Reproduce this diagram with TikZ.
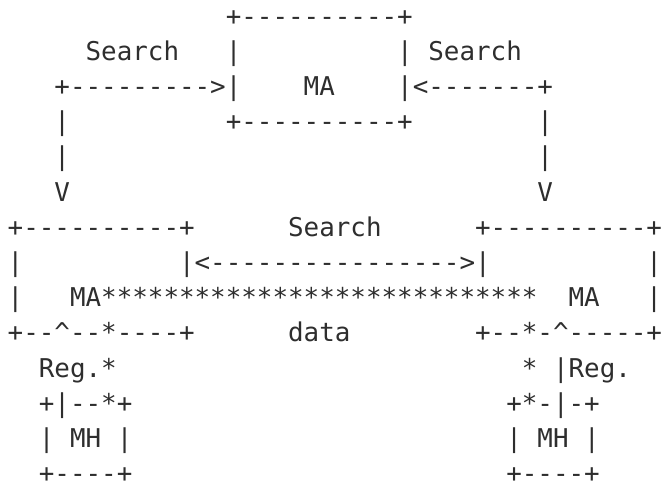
\documentclass[tikz,border=0pt]{standalone}
\usepackage{fontspec}
\setmonofont{DejaVu Sans Mono}
\definecolor{ink}{HTML}{2E2E2E}
\begin{document}
\begin{tikzpicture}[
  cell/.style={font=\ttfamily\fontsize{19.41pt}{23pt}\selectfont, text=ink,
               inner sep=0pt, outer sep=0pt, anchor=base west}
]
\useasboundingbox (0,0) rectangle (497.25pt,-366.75pt);
% one unit = one character cell of the monospaced grid
\begin{scope}[shift={(5.78pt,-18.75pt)}, x=11.685pt, y=-26.4pt]
  % top mobility agent
  \node[cell] (t0)  at (14,0) {+----------+};
  \node[cell] (sl)  at (5,1)  {Search};
  \node[cell] (t1a) at (14,1) {|};
  \node[cell] (t1b) at (25,1) {|};
  \node[cell] (sr)  at (27,1) {Search};
  \node[cell] (al)  at (3,2)  {+--------->|};
  \node[cell] (ma0) at (19,2) {MA};
  \node[cell] (ar)  at (25,2) {|<-------+};
  \node[cell] (vl3) at (3,3)  {|};
  \node[cell] (t3)  at (14,3) {+----------+};
  \node[cell] (vr3) at (34,3) {|};
  \node[cell] (vl4) at (3,4)  {|};
  \node[cell] (vr4) at (34,4) {|};
  \node[cell] (dl)  at (3,5)  {V};
  \node[cell] (dr)  at (34,5) {V};
  % the two lower mobility agents
  \node[cell] (l6)  at (0,6)  {+----------+};
  \node[cell] (sm)  at (18,6) {Search};
  \node[cell] (r6)  at (30,6) {+----------+};
  \node[cell] (l7)  at (0,7)  {|};
  \node[cell] (mid) at (11,7) {|<---------------->|};
  \node[cell] (r7)  at (41,7) {|};
  \node[cell] (l8)  at (0,8)  {|};
  \node[cell] (ma1) at (4,8)  {MA****************************};
  \node[cell] (ma2) at (36,8) {MA};
  \node[cell] (r8)  at (41,8) {|};
  \node[cell] (l9)  at (0,9)  {+--\textasciicircum--*----+};
  \node[cell] (dt)  at (18,9) {data};
  \node[cell] (r9)  at (30,9) {+--*-\textasciicircum-----+};
  % mobile hosts
  \node[cell] (rgl) at (2,10)  {Reg.*};
  \node[cell] (str) at (33,10) {*};
  \node[cell] (rgr) at (35,10) {|Reg.};
  \node[cell] (hl0) at (2,11)  {+|--*+};
  \node[cell] (hr0) at (32,11) {+*-|-+};
  \node[cell] (hl1) at (2,12)  {|};
  \node[cell] (mhl) at (4,12)  {MH};
  \node[cell] (hl2) at (7,12)  {|};
  \node[cell] (hr1) at (32,12) {|};
  \node[cell] (mhr) at (34,12) {MH};
  \node[cell] (hr2) at (37,12) {|};
  \node[cell] (hl3) at (2,13)  {+----+};
  \node[cell] (hr3) at (32,13) {+----+};
\end{scope}
\end{tikzpicture}
\end{document}
